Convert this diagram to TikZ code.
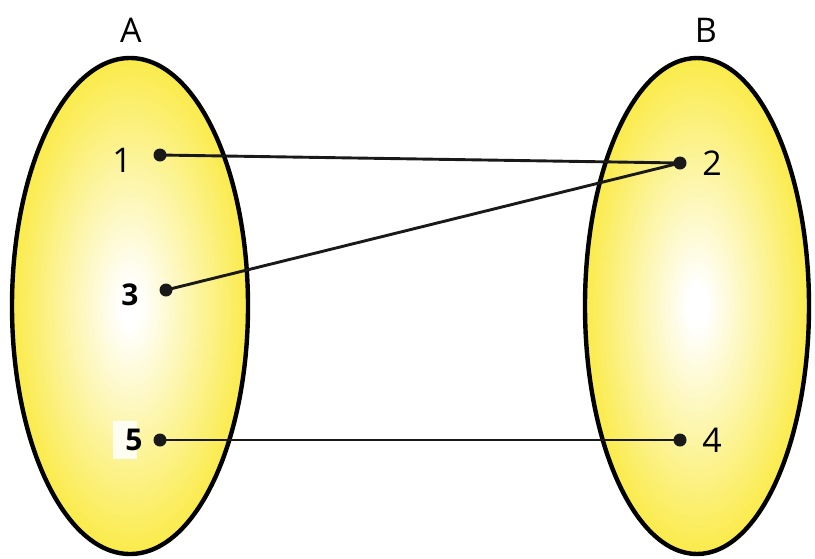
\documentclass[tikz,border=0pt]{standalone}
\usepackage{fontspec}
\setmainfont{Open Sans}
\definecolor{eggyellow}{RGB}{250,234,66}
\pgfdeclareradialshading{eggshade}{\pgfpoint{0bp}{0bp}}{color(0bp)=(white); color(2bp)=(white); color(26bp)=(eggyellow); color(50bp)=(eggyellow)}
\begin{document}
\begin{tikzpicture}[x=1pt,y=-1pt,
  setoval/.style={draw=black, line width=4.4pt, shading=eggshade},
  dot/.style={circle, fill=black!90, inner sep=0pt, minimum size=13pt},
  lbl/.style={font=\fontsize{34}{34}\selectfont, inner sep=0pt},
  blbl/.style={font=\fontsize{30}{30}\selectfont\bfseries, inner sep=0pt},
  link/.style={line width=2.9pt, black!90}]
\useasboundingbox (0,0) rectangle (815,558);
\path[setoval] (130,306) ellipse [x radius=118, y radius=248];
\path[setoval] (697,306) ellipse [x radius=112, y radius=248];
\node[lbl] (A) at (131,30) {A};
\node[lbl] (B) at (706,30) {B};
\fill[white, opacity=0.85] (113,421) rectangle (137,459);
\node[dot] (d1) at (160,155) {};
\node[dot] (d3) at (166,290) {};
\node[dot] (d5) at (160,440) {};
\node[dot] (d2) at (680,163) {};
\node[dot] (d4) at (680,440) {};
\node[lbl] (l1) at (122,160) {1};
\node[blbl] (l3) at (130,295) {3};
\node[blbl] (l5) at (134,440) {5};
\node[lbl] (l2) at (712,163) {2};
\node[lbl] (l4) at (712,440) {4};
\draw[link] (d1.center) -- (d2.center);
\draw[link] (d3.center) -- (d2.center);
\draw[link] (d5.center) -- (d4.center);
\end{tikzpicture}
\end{document}
